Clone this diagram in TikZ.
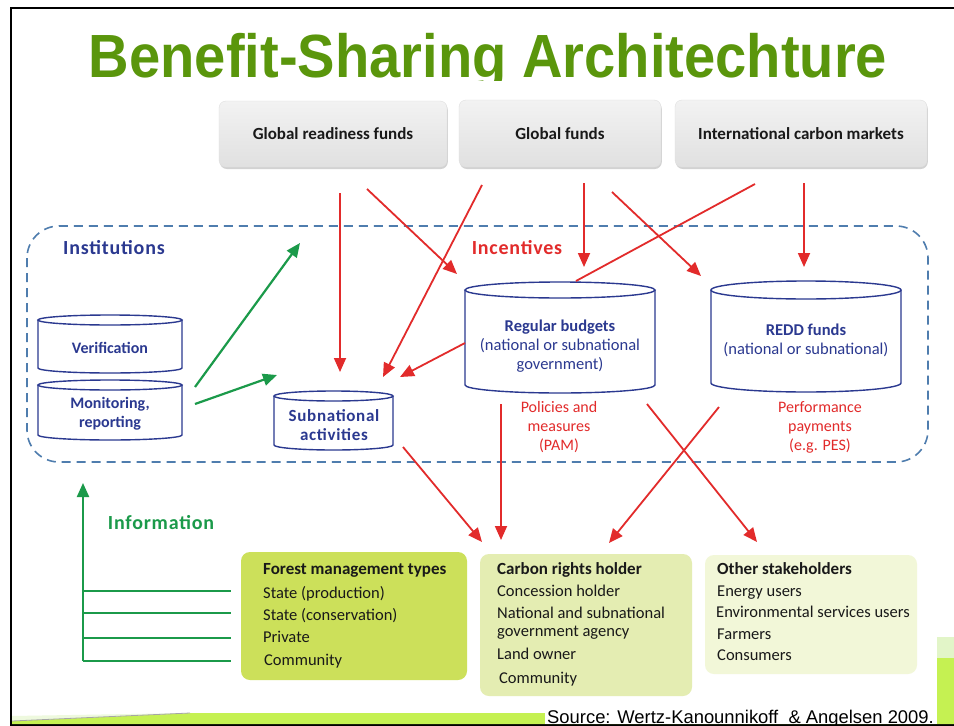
\documentclass[tikz,border=0pt]{standalone}
\usepackage{fontspec}
\setmainfont{Carlito}
\newfontfamily\arialf{Liberation Sans}
\newfontfamily\spacedf[LetterSpace=4]{Carlito}
\usetikzlibrary{arrows.meta,shadows,calc}
\definecolor{navy}{HTML}{2B3990}
\definecolor{dashblue}{HTML}{4F7DAE}
\definecolor{redc}{HTML}{E22B2B}
\definecolor{greenc}{HTML}{1B9A4A}
\definecolor{titlegreen}{HTML}{5A960C}
\definecolor{forestfill}{HTML}{CCE05A}
\definecolor{carbonfill}{HTML}{E4EDB2}
\definecolor{otherfill}{HTML}{F2F7D8}
\definecolor{lime}{HTML}{C5F152}
\definecolor{palelime}{HTML}{E2F5C8}
\newcommand\mycyl[5]{%
 \pgfmathsetmacro\cx{(#1+#2)/2}\pgfmathsetmacro\rx{(#2-#1)/2}%
 \filldraw[cylstyle] (#1,#3) -- (#1,#4) arc[start angle=180,end angle=0,x radius=\rx,y radius=#5] -- (#2,#3);
 \filldraw[cylstyle] (\cx,#3) ellipse[x radius=\rx,y radius=#5];
}
\tikzset{
 cylstyle/.style={draw=navy,fill=white,line width=1.4pt},
 cyltext/.style={text=navy,font=\fontsize{16.5}{19}\selectfont,align=center,inner sep=0pt},
 topbox/.style={rounded corners=7pt,draw=gray!25,top color=gray!10,bottom color=gray!24,
   drop shadow={shadow xshift=0.8pt,shadow yshift=-2pt,opacity=0.35,fill=gray},
   font=\fontsize{17}{19}\selectfont\bfseries,text=black!90,inner sep=0pt},
 redarrow/.style={draw=redc,line width=1.8pt,-{Triangle[length=14pt,width=12pt]}},
 redline/.style={draw=redc,line width=1.8pt},
 greenarrow/.style={draw=greenc,line width=2.2pt,-{Triangle[length=14pt,width=12pt]}},
 greenline/.style={draw=greenc,line width=2.8pt},
 redlabel/.style={text=redc,font=\fontsize{16}{19}\selectfont,align=center,inner sep=0pt},
 section/.style={font=\spacedf\fontsize{20}{22}\selectfont\bfseries,inner sep=0pt},
 lbox/.style={rounded corners=9pt,draw=none,inner sep=0pt},
 itemtext/.style={font=\fontsize{16.5}{19}\selectfont,text=black!90,anchor=west,inner sep=0pt,text height=12pt,text depth=3pt},
 headtext/.style={itemtext,font=\fontsize{17}{19}\selectfont\bfseries},
}
\begin{document}
\begin{tikzpicture}[x=1pt,y=-1pt]
\useasboundingbox (0,0) rectangle (954,726);
\fill[white] (0,0) rectangle (954,726);
% slide frame
\draw[black,line width=2pt] (10,8) -- (954,8);
\draw[black,line width=2.5pt] (11,8) -- (11,726);
\draw[black,line width=2pt] (11,725) -- (954,725);
% bottom green bar
\fill[lime] (190,713) -- (954,713) -- (954,724) -- (12,724) -- (12,721) -- cycle;
\fill[palelime!60] (12,721) -- (190,713) -- (12,716) -- cycle;
\draw[gray!70,line width=0.8pt] (12,721) -- (190,713);
\fill[palelime] (937,637) rectangle (954,658);
\fill[lime] (937,658) rectangle (954,724);
% title
\begin{scope}
\clip (0,0) rectangle (954,80);
\node[anchor=base,text=titlegreen,inner sep=0pt,xscale=0.92,font=\arialf\bfseries\fontsize{61}{61}\selectfont] (title) at (488,77) {Benefit-Sharing Architechture};
\end{scope}
% top boxes
\node[topbox,minimum width=228pt,minimum height=66pt] (grf) at (333,134) {Global readiness funds};
\node[topbox,minimum width=202pt,minimum height=67pt] (gf) at (560,133.5) {Global funds};
\node[topbox,minimum width=252pt,minimum height=67pt] (icm) at (801,133.5) {International carbon markets};
% dashed region
\draw[dashblue,line width=1.6pt,dash pattern=on 9pt off 6pt,rounded corners=32pt] (27,226) rectangle (928,462);
\node[section,text=navy] (inst) at (114,248) {Institutions};
\node[section,text=redc] (incent) at (517,248) {Incentives};
\node[section,text=greenc] (info) at (161,523) {Information};
% cylinders
\mycyl{38}{182}{320}{368}{5}
\node[cyltext,font=\fontsize{16}{18}\selectfont\bfseries] (verif) at (110,348) {Verification};
\mycyl{38}{182}{385}{435}{5}
\node[cyltext,font=\fontsize{16}{19}\selectfont\bfseries] (monit) at (110,414) {Monitoring,\\reporting};
\mycyl{274}{393}{396}{445}{5}
\node[cyltext,font=\spacedf\fontsize{17}{19}\selectfont\bfseries] (subnat) at (334,425) {Subnational\\activities};
\mycyl{465}{655}{290}{385}{8}
\node[cyltext] (regb) at (560,346) {\textbf{Regular budgets}\\(national or subnational\\government)};
\mycyl{711}{901}{290}{383}{9}
\node[cyltext] (redd) at (806,340) {\textbf{REDD funds}\\(national or subnational)};
% red labels
\node[redlabel] (pam) at (559,427) {Policies and\\measures\\(PAM)};
\node[redlabel] (pes) at (820,427) {Performance\\payments\\(e.g. PES)};
% bottom boxes
\node[lbox,fill=forestfill,minimum width=226pt,minimum height=128pt] (forest) at (354,616) {};
\node[lbox,fill=carbonfill,minimum width=212pt,minimum height=142pt] (carbon) at (586,625) {};
\node[lbox,fill=otherfill,minimum width=212pt,minimum height=119pt] (other) at (811,614.5) {};
\node[headtext] (f0) at (263,570) {Forest management types};
\node[itemtext] (f1) at (263,594) {State (production)};
\node[itemtext] (f2) at (263,616) {State (conservation)};
\node[itemtext] (f3) at (263,638) {Private};
\node[itemtext] (f4) at (264,661) {Community};
\node[headtext] (c0) at (497,570) {Carbon rights holder};
\node[itemtext] (c1) at (497,592) {Concession holder};
\node[itemtext] (c2) at (497,614) {National and subnational};
\node[itemtext] (c3) at (497,632) {government agency};
\node[itemtext] (c4) at (497,655) {Land owner};
\node[itemtext] (c5) at (499,679) {Community};
\node[headtext] (o0) at (717,570) {Other stakeholders};
\node[itemtext] (o1) at (717,592) {Energy users};
\node[itemtext] (o2) at (716,613) {Environmental services users};
\node[itemtext] (o3) at (717,635) {Farmers};
\node[itemtext] (o4) at (717,656) {Consumers};
% connector end points
\coordinate (a1s) at (340,193); \coordinate (a1e) at (340,372);
\coordinate (a2s) at (367,189); \coordinate (a2e) at (457,274);
\coordinate (a3s) at (482,185); \coordinate (a3e) at (383,377);
\coordinate (a4s) at (584,183); \coordinate (a4e) at (584,267);
\coordinate (a5s) at (612,192); \coordinate (a5e) at (701,276);
\coordinate (a6s) at (755,184); \coordinate (a6e) at (576,281);
\coordinate (a7s) at (804,183); \coordinate (a7e) at (804,267);
\coordinate (a8s) at (465,343); \coordinate (a8e) at (400,377);
\coordinate (a9s) at (403,447); \coordinate (a9e) at (482,542);
\coordinate (a10s) at (501,404); \coordinate (a10e) at (501,540);
\coordinate (a11s) at (719,407); \coordinate (a11e) at (609,543);
\coordinate (a12s) at (647,404); \coordinate (a12e) at (757,542);
\coordinate (g1s) at (195,387); \coordinate (g1e) at (300,243);
\coordinate (g2s) at (195,404); \coordinate (g2e) at (277,375);
\coordinate (ib) at (83,661); \coordinate (it) at (83,483);
% red arrows
\draw[redarrow] (a1s) -- (a1e);
\draw[redarrow] (a2s) -- (a2e);
\draw[redarrow] (a3s) -- (a3e);
\draw[redarrow] (a4s) -- (a4e);
\draw[redarrow] (a5s) -- (a5e);
\draw[redline] (a6s) -- (a6e);
\draw[redarrow] (a7s) -- (a7e);
\draw[redarrow] (a8s) -- (a8e);
\draw[redarrow] (a9s) -- (a9e);
\draw[redarrow] (a10s) -- (a10e);
\draw[redarrow] (a11s) -- (a11e);
\draw[redarrow] (a12s) -- (a12e);
% green arrows
\draw[greenarrow] (g1s) -- (g1e);
\draw[greenarrow] (g2s) -- (g2e);
\draw[greenarrow] (ib) -- (it);
\foreach \yy in {591,613,638,661} {\draw[greenline] (83,\yy) -- (231,\yy);}
% source
\fill[white] (545,697) rectangle (937,724);
\node[anchor=base west,inner sep=0pt,font=\arialf\fontsize{18.4}{20}\selectfont] (src) at (547,723) {Source: Wertz-Kanounnikoff\ \ \& Angelsen 2009.};
\end{tikzpicture}
\end{document}
